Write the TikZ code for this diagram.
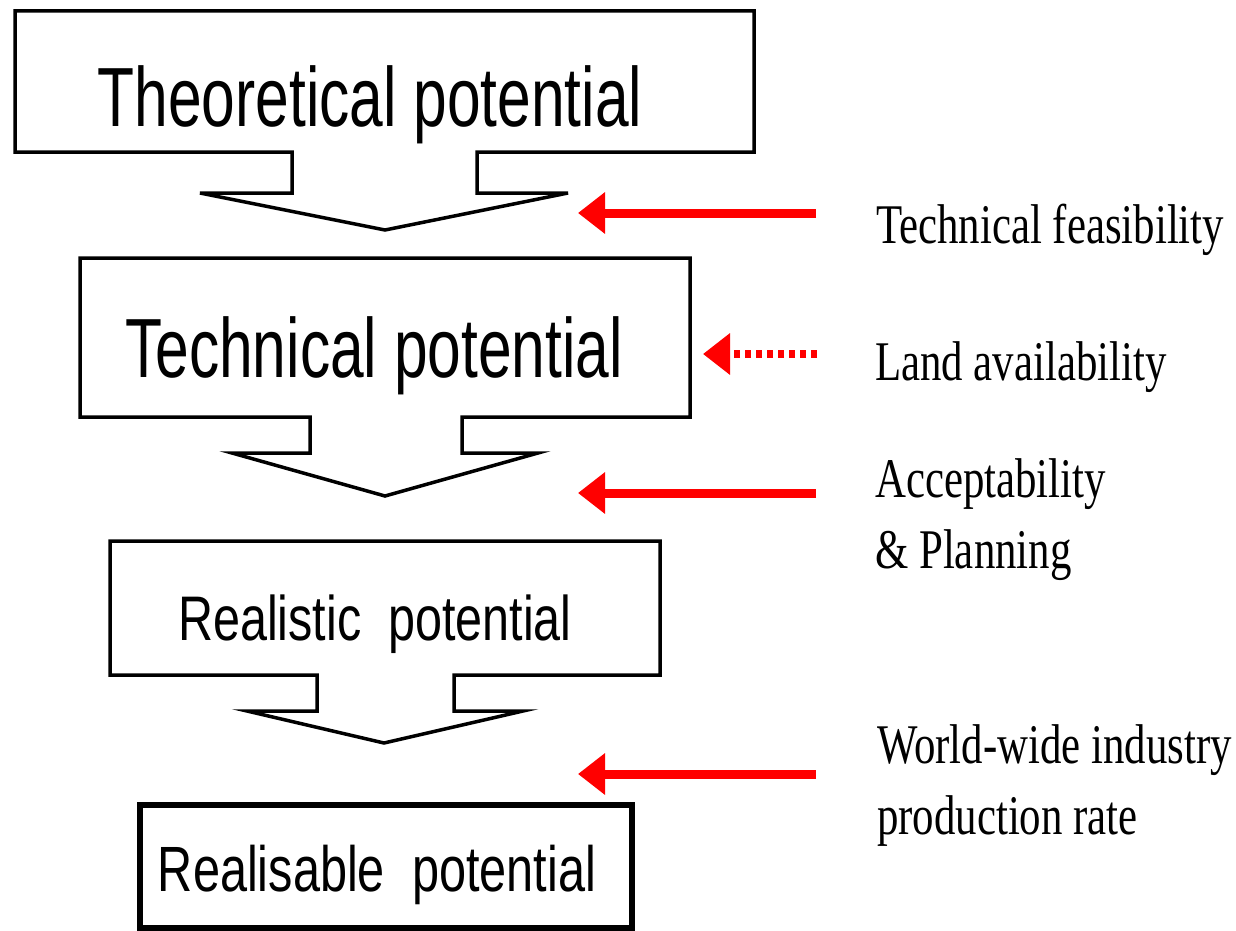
\documentclass[tikz,border=0pt]{standalone}
\usepackage{fontspec}
\setmainfont{Liberation Serif}
\newfontfamily\boxfont{Liberation Sans}
\usetikzlibrary{arrows.meta}
\begin{document}
\begin{tikzpicture}[x=1pt,y=-1pt,
  blockarrow/.style={draw=black, line width=3.5pt, line join=miter, fill=white},
  finalbox/.style={draw=black, line width=6pt},
  boxtext/.style={anchor=base, inner sep=0pt, font=\boxfont},
  labeltext/.style={anchor=base west, inner sep=0pt, font=\fontsize{56}{71}\selectfont},
  redarrow/.style={draw=red, line width=9pt, -{Triangle[length=27pt,width=40pt]}},
  reddotted/.style={redarrow, line width=8pt, dash pattern=on 6pt off 5pt}]
\useasboundingbox (0,0) rectangle (1236,931);
\fill[white] (0,0) rectangle (1236,931);

% block arrows
\draw[blockarrow] (15,11) -- (754,11) -- (754,152) -- (477,152) -- (477,193) -- (568,193) -- (385,230) -- (200,193) -- (292,193) -- (292,152) -- (15,152) -- cycle;
\draw[blockarrow] (80,258) -- (690,258) -- (690,417) -- (462,417) -- (462,453) -- (538,453) -- (385,496) -- (232,453) -- (310,453) -- (310,417) -- (80,417) -- cycle;
\draw[blockarrow] (110,541) -- (660,541) -- (660,675) -- (454,675) -- (454,711) -- (523,711) -- (384,743) -- (247,711) -- (317,711) -- (317,675) -- (110,675) -- cycle;
\draw[finalbox] (140,805) rectangle (632,928);

% box texts
\node[boxtext] (theo) at (370,127) {\scalebox{0.72}[1]{\fontsize{84}{100}\selectfont Theoretical potential}};
\node[boxtext] (tech) at (374,377) {\scalebox{0.72}[1]{\fontsize{84}{100}\selectfont Technical potential}};
\node[boxtext] (real) at (375,640) {\scalebox{0.77}[1]{\fontsize{63}{76}\selectfont Realistic\ \ potential}};
\node[boxtext] (reab) at (377,891) {\scalebox{0.76}[1]{\fontsize{64}{77}\selectfont Realisable\ \ potential}};

% labels
\node[labeltext] (feas) at (876,243) {\scalebox{0.765}[1]{Technical feasibility}};
\node[labeltext] (land) at (875,380) {\scalebox{0.765}[1]{Land availability}};
\node[labeltext] (acc) at (875,497) {\scalebox{0.765}[1]{\begin{tabular}[t]{@{}l@{}}Acceptability\\\& Planning\end{tabular}}};
\node[labeltext] (world) at (877,763) {\scalebox{0.765}[1]{\begin{tabular}[t]{@{}l@{}}World-wide industry\\production rate\end{tabular}}};

% red arrows
\coordinate (s1) at (816,213); \coordinate (e1) at (578,213);
\coordinate (s2) at (817,354); \coordinate (e2) at (703,354);
\coordinate (s3) at (816,493); \coordinate (e3) at (578,493);
\coordinate (s4) at (816,774); \coordinate (e4) at (578,774);
\draw[redarrow] (s1) -- (e1);
\draw[reddotted] (s2) -- (e2);
\draw[redarrow] (s3) -- (e3);
\draw[redarrow] (s4) -- (e4);
\end{tikzpicture}
\end{document}
